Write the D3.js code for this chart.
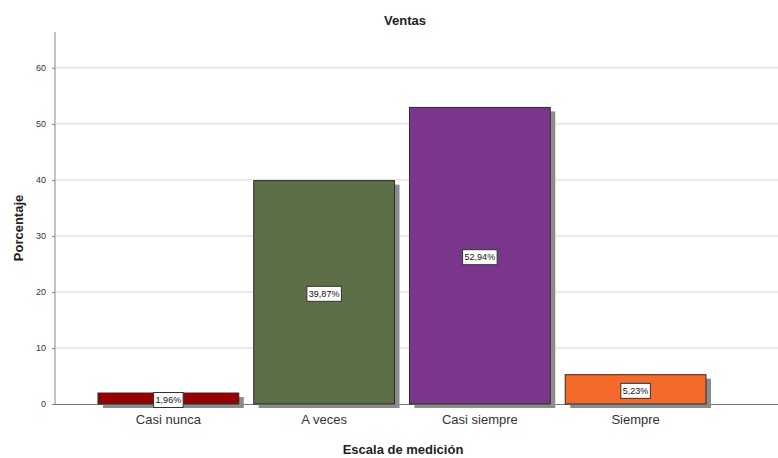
<!DOCTYPE html>
<html><head><meta charset="utf-8">
<script src="https://cdn.jsdelivr.net/npm/d3@7"></script>
<style>body{margin:0;background:#fff}svg{display:block;font-family:"Liberation Sans",Arial,sans-serif}</style>
</head><body><svg id="c" width="778" height="458"></svg>
<script>
const categories = ["Casi nunca","A veces","Casi siempre","Siempre"];
const values = [1.96, 39.87, 52.94, 5.23];
const valueLabels = ["1,96%","39,87%","52,94%","5,23%"];
const colors = ["#990000","#5c6f48","#79368b","#f36a2b"];
const yTicks = [0,10,20,30,40,50,60];

const svg = d3.select("#c");
const x = d3.scaleBand().domain(categories).range([55,749]).paddingInner(0.096).paddingOuter(0.276);
const y = d3.scaleLinear().domain([0,66.4]).range([404,32]);

// gridlines
svg.append("g").selectAll("line").data(yTicks.filter(d=>d>0)).join("line")
  .attr("x1",55).attr("x2",778).attr("y1",d=>y(d)).attr("y2",d=>y(d))
  .attr("stroke","#d4d4d4").attr("stroke-width",1);

// y axis
const ya = svg.append("g").attr("transform","translate(55,0)")
  .call(d3.axisLeft(y).tickValues(yTicks).tickSize(3).tickPadding(6));
ya.select(".domain").attr("stroke","#888").attr("d","M0,32V404");
ya.selectAll(".tick line").attr("stroke","#888");
ya.selectAll("text").attr("font-size",9).attr("fill","#333").attr("font-family","Liberation Sans, Arial, sans-serif");

// x axis line
svg.append("line").attr("x1",55).attr("x2",778).attr("y1",404.5).attr("y2",404.5).attr("stroke","#777");

// shadows
svg.append("g").selectAll("rect").data(categories).join("rect")
  .attr("x",d=>x(d)+5).attr("y",(d,i)=>y(values[i])+4)
  .attr("width",x.bandwidth()).attr("height",(d,i)=>y(0)-y(values[i]))
  .attr("fill","#8c8c8c");
// bars
svg.append("g").selectAll("rect").data(categories).join("rect")
  .attr("x",d=>x(d)).attr("y",(d,i)=>y(values[i]))
  .attr("width",x.bandwidth()).attr("height",(d,i)=>y(0)-y(values[i]))
  .attr("fill",(d,i)=>colors[i]).attr("stroke","#2b2b2b").attr("stroke-width",1);

// x axis labels
const xa = svg.append("g").attr("transform","translate(0,404)")
  .call(d3.axisBottom(x).tickSize(0).tickPadding(11));
xa.select(".domain").remove();
xa.selectAll("text").attr("font-size",13).attr("fill","#333").attr("font-family","Liberation Sans, Arial, sans-serif");

// value labels
const lg = svg.append("g").selectAll("g").data(categories).join("g")
  .attr("transform",(d,i)=>`translate(${x(d)+x.bandwidth()/2},${(y(values[i])+y(0))/2 + 1.5})`);
lg.append("text").attr("text-anchor","middle").attr("dy","0.35em")
  .attr("font-size",9).attr("fill","#111").text((d,i)=>valueLabels[i])
  .each(function(){
    const b=this.getBBox();
    d3.select(this.parentNode).insert("rect","text")
      .attr("x",b.x-2).attr("y",-7.5).attr("width",b.width+4).attr("height",15)
      .attr("fill","#fff").attr("stroke","#333").attr("stroke-width",1);
  });

// titles
svg.append("text").attr("x",405).attr("y",25).attr("text-anchor","middle")
  .attr("font-size",13).attr("font-weight","bold").attr("fill","#222").text("Ventas");
svg.append("text").attr("transform","translate(23,228) rotate(-90)").attr("text-anchor","middle")
  .attr("font-size",13).attr("font-weight","bold").attr("fill","#222").text("Porcentaje");
svg.append("text").attr("x",403).attr("y",454).attr("text-anchor","middle")
  .attr("font-size",13).attr("font-weight","bold").attr("fill","#222").text("Escala de medición");
</script></body></html>
